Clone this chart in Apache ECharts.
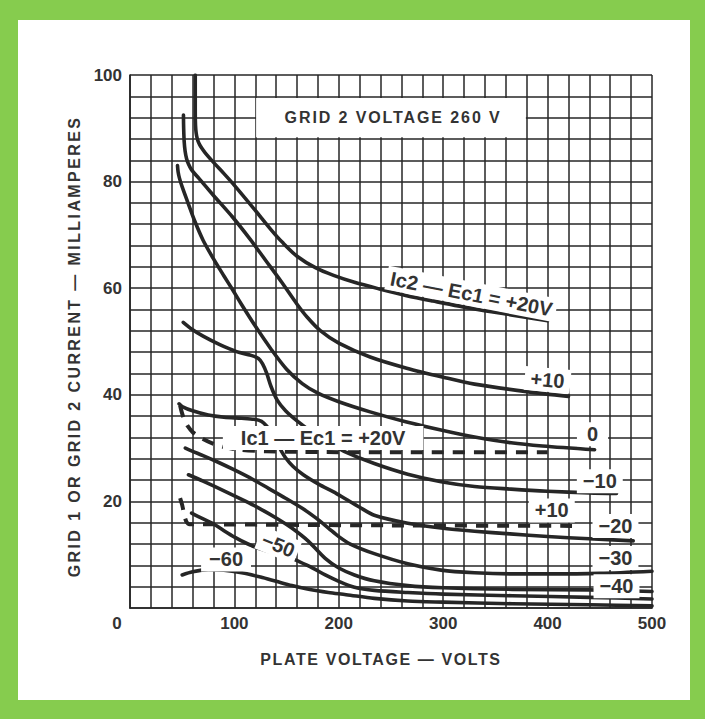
<!DOCTYPE html>
<html><head><meta charset="utf-8">
<script src="https://cdn.jsdelivr.net/npm/echarts@6/dist/echarts.min.js"></script>
<style>
html,body{margin:0;padding:0;background:#86cc4e;}
#frame{position:absolute;left:0;top:0;width:705px;height:719px;background:#86cc4e;}
#panel{position:absolute;left:18px;top:20px;width:672px;height:680px;background:#ffffff;}
#chart{position:absolute;left:0;top:0;width:705px;height:719px;}
</style></head><body>
<div id="frame"></div><div id="panel"></div><div id="chart"></div>
<script>
// ---- axes ----
const xName = 'PLATE VOLTAGE — VOLTS';
const yName = 'GRID 1 OR GRID 2 CURRENT — MILLIAMPERES';
const titleText = 'GRID 2 VOLTAGE 260 V';
const xTickLabels = [0, 100, 200, 300, 400, 500];
const yTickLabels = [20, 40, 60, 80, 100];

// ---- screen (grid 2) current curves, [plate volts, mA] ----
const ic2Pos20 = [[62.5,100],[62.5,95],[62.6,91.5],[63,89.8],[63.8,88.6],[65,87.7],[66.8,86.9],[69,86.2],[72,85.4],[80,83.6],[90,81.5],[100,79.3],[120,74.6],[135,71],[146,68.6],[160,66],[178,63.8],[195,62.4],[215,61.1],[240,59.8],[265,58.6],[290,57.6],[330,56.1],[365,55],[400,53.9]];
const ic2Pos10 = [[51.2,92.5],[51.4,90],[51.9,87.5],[52.8,85.7],[54.2,84.3],[56,83.3],[59,82.2],[66,80.6],[80,77.4],[98,73.4],[115,69.2],[130,65.2],[145,61.2],[160,57],[170,54.5],[182,52.1],[200,49.7],[230,47.1],[265,45],[300,43.3],[330,42],[380,40.6],[420,39.7]];
const ic2Zero  = [[45.5,83],[46.1,81.8],[47.3,80.7],[50,79],[55,76.3],[62,72.6],[70,69],[80,65.5],[90,62.3],[98,59.8],[107,56.9],[120,52.9],[135,48.6],[150,44.8],[165,42.1],[180,40.3],[200,38.7],[230,36.8],[265,34.9],[300,33.3],[330,32.1],[365,31],[395,30.4],[445,29.7]];
const ic2Neg10 = [[51,53.6],[60,52.2],[70,51],[86,49.4],[102,48.1],[116,47.4],[123,46.8],[127,45.8],[131,44],[135,41.6],[141,39],[149,37],[160,35.1],[175,32.9],[190,31],[205,29.4],[234,27.1],[266,25.1],[298,23.7],[330,22.8],[365,22.3],[400,21.9],[440,21.6],[466,21.5]];
const ic2Neg20 = [[47,38.3],[50,37.8],[60,37],[75,36.2],[90,35.8],[107,35.6],[119,35.4],[126,35],[131,34.1],[135,33],[139,31.6],[144,29.8],[149,28.2],[156,26.6],[166,25],[181,23.2],[195,21.8],[207,20.4],[220,18.9],[234,17.4],[266,15.9],[298,15],[330,14.4],[364,13.9],[400,13.4],[440,13],[482,12.6]];
const ic2Neg30 = [[53,30],[60,29.4],[70,28.6],[85,27.3],[100,25.9],[117,24.2],[133,22.4],[149,20.6],[165,18.7],[178,16.9],[190,15],[200,13.4],[211,12],[234,10.2],[266,8.3],[298,7.1],[330,6.6],[366,6.4],[400,6.4],[450,6.5],[500,6.9]];
const ic2Neg40 = [[56,25],[70,23.8],[91,21.9],[110,20.1],[123,18.8],[140,16.9],[155,15],[171,12.5],[187,9.3],[200,7.5],[215,6.2],[234,5.1],[266,4.2],[300,3.8],[366,3.5],[440,3.4],[500,3.1]];
const ic2Neg50 = [[59,17.8],[65,17.2],[79,15.9],[90,14.5],[101,13.2],[112,12.1],[123,11.2],[135,10.5],[150,9.7],[162,8.7],[175,7.5],[187,6.2],[200,5],[215,3.9],[234,3.3],[266,2.9],[300,2.6],[366,2.3],[440,2],[500,1.7]];
const ic2Neg60 = [[50,6.2],[60,6.8],[75,7.2],[90,7.1],[107,6.6],[125,5.8],[140,5],[155,4.2],[171,3.5],[190,2.9],[207,2.5],[234,1.8],[266,1.3],[300,1.1],[366,0.8],[440,0.6],[500,0.4]];

// ---- control grid (grid 1) current, dashed ----
const ic1Pos20 = [[48,38],[49.5,36.8],[52,35.3],[55,34.2],[60,33],[70,31.7],[80,30.8],[90,30.2],[105,29.7],[130,29.4],[160,29.3],[250,29.2],[400,29.2]];
const ic1Pos10 = [[48,20.6],[50,19.3],[52,17.5],[54,16.2],[57,15.7],[70,15.7],[150,15.6],[250,15.5],[429,15.4]];

// ---- curve labels: text and anchor in data units ----
const labelTexts  = ['Ic2 — Ec1 = +20V','+10','0','−10','+10','−20','−30','−40','−50','−60','Ic1 — Ec1 = +20V'];
const labelAnchor = [[327,58.9],[400,42.8],[443,32.6],[450,23.8],[404,18.3],[465,15.4],[465,9.4],[466,4.1],[142,11.8],[92,9.1],[185,31.9]];
const labelTilt   = [-11,-5,0,0,0,0,0,0,-22,0,0];
const labelPadX   = [4,6,10,6,6,6,6,6,4,8,18];
const titleAnchor = [252, 92];
const titleBox = [[120.8,88.3],[379.2,95.7]];

const INK = '#262626', TEXT = '#333333';
const FONT = '"Liberation Sans", Arial, Helvetica, sans-serif';

const solidCurves = [ic2Pos20, ic2Pos10, ic2Zero, ic2Neg10, ic2Neg20, ic2Neg30, ic2Neg40, ic2Neg50, ic2Neg60];
const dashedCurves = [ic1Pos20, ic1Pos10];

const series = [];
solidCurves.forEach(d => series.push({
  type:'line', data:d, symbol:'none', smooth:0.3, silent:true, z:3,
  lineStyle:{color:INK, width:3.6, cap:'round', join:'round'}
}));
dashedCurves.forEach(d => series.push({
  type:'line', data:d, symbol:'none', smooth:0.3, silent:true, z:3,
  lineStyle:{color:INK, width:4, type:[12,9], cap:'butt'}
}));
const labelStyle = {show:true, position:'inside', color:TEXT, fontFamily:FONT, fontWeight:'bold', fontSize:20, opacity:1,
  backgroundColor:'#ffffff', textBorderWidth:0, textBorderColor:'transparent', textShadowBlur:0};
series.push({
  type:'scatter', symbolSize:0, silent:true, z:10, itemStyle:{color:'#ffffff', opacity:1},
  data: labelTexts.map((t,i) => ({value:labelAnchor[i], label:Object.assign({}, labelStyle, {formatter:t, rotate:labelTilt[i], padding:[2,labelPadX[i]]})}))
    .concat([{value:titleAnchor, label:{show:true, position:'inside', formatter:titleText, color:TEXT, fontFamily:FONT, fontWeight:'bold', fontSize:16, opacity:1, textBorderWidth:0, textBorderColor:'transparent'}}]),
  markArea:{silent:true, itemStyle:{color:'#ffffff', opacity:1}, data:[[{coord:titleBox[0]},{coord:titleBox[1]}]]}
});

const chart = echarts.init(document.getElementById('chart'), null, {renderer:'svg', width:705, height:719});
chart.setOption({
  animation:false,
  backgroundColor:'transparent',
  grid:{left:130, top:75, width:522, height:533, containLabel:false},
  xAxis:{type:'value', min:0, max:500, interval:20,
    axisLine:{show:true, onZero:false, lineStyle:{color:INK, width:1.7}}, axisTick:{show:false},
    splitLine:{show:true, lineStyle:{color:INK, width:1.5}},
    axisLabel:{margin:7, color:TEXT, fontSize:17, fontWeight:'bold', fontFamily:FONT,
      formatter:v => v===0 ? '{z|0}' : (xTickLabels.indexOf(v) >= 0 ? String(v) : ''),
      rich:{z:{padding:[0,26,0,0], fontSize:17, fontWeight:'bold', color:TEXT, fontFamily:FONT}}},
    name:xName, nameLocation:'middle', nameGap:43,
    nameTextStyle:{color:TEXT, fontSize:16, fontWeight:'bold', fontFamily:FONT, padding:[0,20,0,0]}},
  yAxis:{type:'value', min:0, max:100, interval:4,
    axisLine:{show:true, onZero:false, lineStyle:{color:INK, width:1.7}}, axisTick:{show:false},
    splitLine:{show:true, lineStyle:{color:INK, width:1.5}},
    axisLabel:{margin:8, color:TEXT, fontSize:17, fontWeight:'bold', fontFamily:FONT,
      formatter:v => yTickLabels.indexOf(v) >= 0 ? String(v) : ''},
    name:yName, nameLocation:'middle', nameGap:41, nameRotate:90,
    nameTextStyle:{color:TEXT, fontSize:16, fontWeight:'bold', fontFamily:FONT, padding:[0,10,0,0]}},
  series: series
});

function spaceOut(){
  const sp = {};
  sp[titleText] = '1.9px'; sp[xName] = '1.6px'; sp[yName] = '2.4px';
  document.querySelectorAll('#chart text').forEach(t => {
    const s = sp[t.textContent];
    if (s) t.setAttribute('letter-spacing', s);
  });
}
spaceOut();
chart.on('finished', spaceOut);
setTimeout(spaceOut, 0);
</script></body></html>
